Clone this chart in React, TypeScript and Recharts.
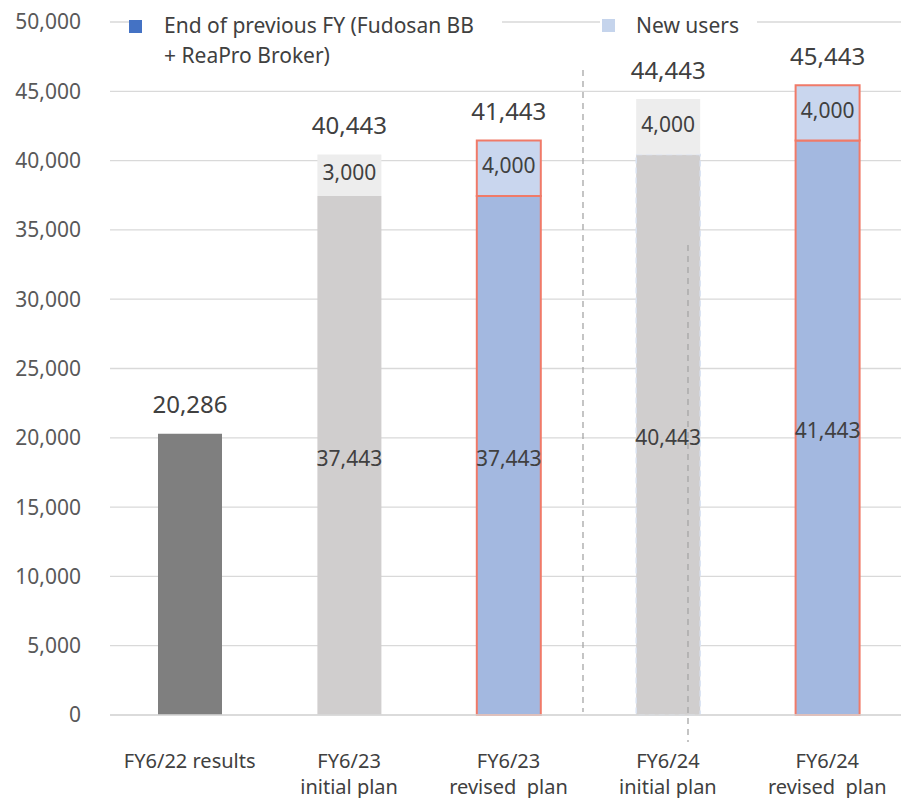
import React from 'react'
import { Bar, BarChart, CartesianGrid, Cell, LabelList, Legend, XAxis, YAxis } from 'recharts'

const categories = ['FY6/22 results', 'FY6/23\ninitial plan', 'FY6/23\nrevised  plan', 'FY6/24\ninitial plan', 'FY6/24\nrevised  plan']
const previousFyUsers = [20286, 37443, 37443, 40443, 41443]
const newUsers: (number | null)[] = [null, 3000, 4000, 4000, 4000]
const yTicks = [0, 5000, 10000, 15000, 20000, 25000, 30000, 35000, 40000, 45000, 50000]

const baseColors = ['#7f7f7f', '#d0cece', '#a3b8e0', '#d0cece', '#a3b8e0']
const newColors = ['#ededed', '#ededed', '#c9d6ee', '#ededed', '#c9d6ee']
const revised = [false, false, true, false, true]

const data = categories.map((name, i) => ({
  name,
  base: previousFyUsers[i],
  added: newUsers[i],
  total: previousFyUsers[i] + (newUsers[i] ?? 0),
}))

const FONT = '"Noto Sans", sans-serif'
const fmt = (v: number) => v.toLocaleString('en-US')

function CategoryTick({ x, y, payload }: any) {
  const lines = String(payload.value).split('\n')
  return (
    <g>
      {lines.map((line, i) => (
        <text
          key={i}
          x={x}
          y={y + 45 + i * 26}
          textAnchor="middle"
          dominantBaseline="central"
          fill="#404040"
          fontSize={20}
          fontFamily={FONT}
          style={{ whiteSpace: 'pre' }}
        >
          {line}
        </text>
      ))}
    </g>
  )
}

function TotalLabel({ x, y, width, value }: any) {
  if (value == null) return null
  return (
    <text
      x={x + width / 2}
      y={y - 30}
      textAnchor="middle"
      dominantBaseline="central"
      fill="#404040"
      fontSize={24}
      fontFamily={FONT}
    >
      {fmt(value)}
    </text>
  )
}

function BaseLabel(props: any) {
  const { x, y, width, height, value } = props
  // the results bar has no new users, so its figure sits on top
  if (value === previousFyUsers[0]) return <TotalLabel {...props} />
  return (
    <text
      x={x + width / 2}
      y={y + height / 2 + 2}
      textAnchor="middle"
      dominantBaseline="central"
      fill="#404040"
      fontSize={21}
      fontFamily={FONT}
    >
      {fmt(value)}
    </text>
  )
}

function AddedLabel({ x, y, width, height, value }: any) {
  if (value == null) return null
  return (
    <text
      x={x + width / 2}
      y={y + height / 2 - 3}
      textAnchor="middle"
      dominantBaseline="central"
      fill="#404040"
      fontSize={21}
      fontFamily={FONT}
    >
      {fmt(value)}
    </text>
  )
}

function ChartLegend() {
  const text = { position: 'absolute' as const, color: '#404040', fontSize: 21, fontFamily: FONT, lineHeight: '30px' }
  return (
    <div style={{ position: 'relative', width: 901, height: 72 }}>
      <div style={{ position: 'absolute', left: 135, top: 0, width: 367, height: 70, background: '#fff' }} />
      <div style={{ position: 'absolute', left: 129, top: 20, width: 13, height: 13, background: '#4472c4' }} />
      <div style={{ ...text, left: 164, top: 10, width: 330 }}>
        End of previous FY (Fudosan BB
        <br />+ ReaPro Broker)
      </div>
      <div style={{ position: 'absolute', left: 600, top: 0, width: 157, height: 44, background: '#fff' }} />
      <div style={{ position: 'absolute', left: 602, top: 19, width: 13, height: 13, background: '#c5d4ec' }} />
      <div style={{ ...text, left: 636, top: 10 }}>New users</div>
    </div>
  )
}

export default function App() {
  return (
    <div style={{ position: 'absolute', left: 0, top: 0, width: 901, height: 798, overflow: 'hidden', background: '#fff' }}>
      <BarChart width={907} height={798} data={data} margin={{ top: 22, right: 0, bottom: 0, left: 0 }} barSize={64}>
        <CartesianGrid stroke="#d9d9d9" strokeWidth={1.3} vertical={false} />
        <XAxis
          dataKey="name"
          height={83}
          interval={0}
          tickLine={false}
          tickSize={0}
          tickMargin={0}
          axisLine={{ stroke: '#d9d9d9', strokeWidth: 1.3 }}
          tick={<CategoryTick />}
        />
        <YAxis
          width={110}
          domain={[0, 50000]}
          ticks={yTicks}
          tickFormatter={fmt}
          axisLine={false}
          tickLine={false}
          tickSize={0}
          tickMargin={29}
          tick={{ fill: '#595959', fontSize: 21, fontFamily: FONT }}
        />
        <Legend
          verticalAlign="middle"
          align="center"
          wrapperStyle={{ top: 0, left: 0, width: 901, height: 72 }}
          content={() => <ChartLegend />}
        />
        <Bar dataKey="base" stackId="a" isAnimationActive={false}>
          {data.map((_, i) => (
            <Cell
              key={i}
              fill={baseColors[i]}
              stroke={revised[i] ? '#f07a68' : i === 3 ? '#dae3f3' : 'none'}
              strokeWidth={revised[i] ? 2 : 1.5}
              strokeDasharray={i === 3 ? '6 4' : undefined}
            />
          ))}
          <LabelList dataKey="base" content={<BaseLabel />} />
        </Bar>
        <Bar dataKey="added" stackId="a" isAnimationActive={false}>
          {data.map((_, i) => (
            <Cell key={i} fill={newColors[i]} stroke={revised[i] ? '#f07a68' : 'none'} strokeWidth={2} />
          ))}
          <LabelList dataKey="added" content={<AddedLabel />} />
          <LabelList dataKey="total" content={<TotalLabel />} />
        </Bar>
      </BarChart>
      <svg width={901} height={798} style={{ position: 'absolute', left: 0, top: 0, pointerEvents: 'none' }}>
        <line x1={583} y1={70} x2={583} y2={712} stroke="#a6a6a6" strokeWidth={1.3} strokeDasharray="6 5" />
        <line x1={688} y1={245} x2={688} y2={742} stroke="#a6a6a6" strokeWidth={1.3} strokeDasharray="6 5" />
      </svg>
    </div>
  )
}
